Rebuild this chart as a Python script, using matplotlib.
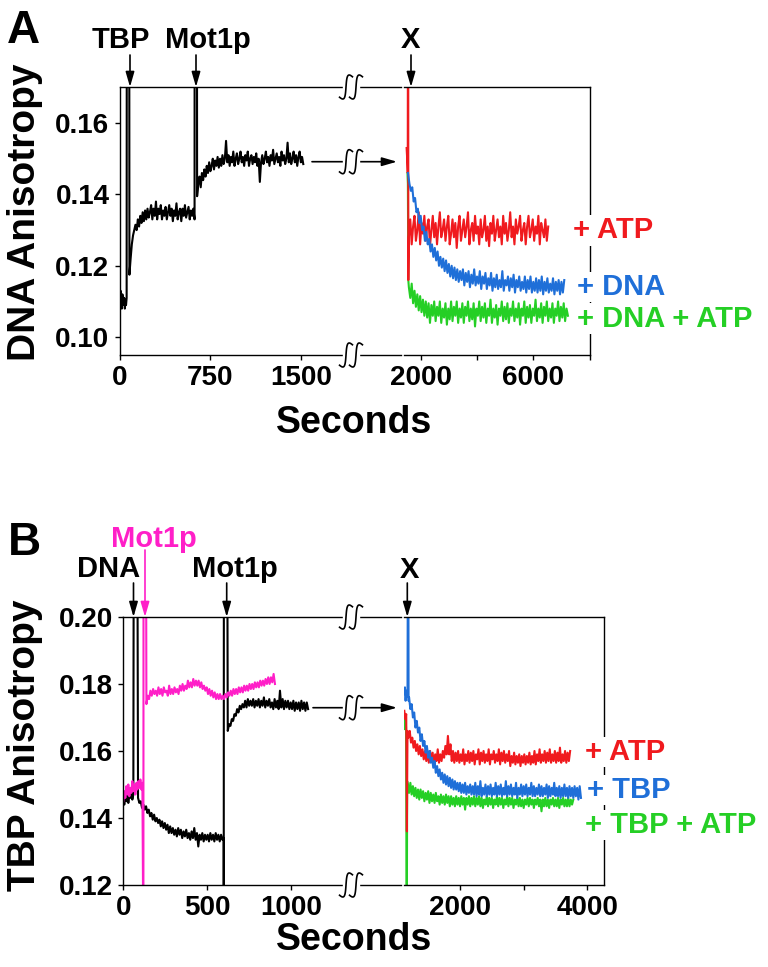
import numpy as np
import matplotlib
matplotlib.use('Agg')
import matplotlib.pyplot as plt
from matplotlib.lines import Line2D
from matplotlib.patches import FancyArrowPatch, Rectangle

plt.rcParams['font.family'] = ['Liberation Sans', 'DejaVu Sans']
plt.rcParams['font.weight'] = 'bold'

W, H = 768, 967

RED = '#f01a1e'
BLUE = '#1f6fd8'
GREEN = '#25cf25'
PINK = '#ff1fc8'
LW = 1.5

OFF = 250   # injection spikes run off the top of the plot
LOW = 100   # ... or off the bottom

# all anisotropy values, in units of 0.001

# ---- panel A: DNA anisotropy ----
a_black_start = [110, 113, 111, 108, 112, 110, 109, 111, 108, 110, 109, 111]  # 0 s, every 5 s
a_black_tbp = [117.5, 122, 126, 128.5, 130, 131.5, 130, 133, 131, 134, 132, 135, 132.5, 135.5,
               133, 136, 133.5, 135, 137, 133, 136, 134, 138, 133, 136, 134.5, 137, 133, 135.5,
               134, 136.5, 133, 135, 137, 134, 136, 132.5, 135.5, 134, 137.5, 133, 135, 136,
               132.5, 136, 134, 137, 133.5, 135, 136.5, 133, 135.5, 134, 136, 133]  # 78 s, every 10 s
a_black_mot = [139.5, 143, 145, 142, 146, 144, 147, 145, 148, 146, 149, 146.5, 148, 150, 147,
               149.5, 148, 150.5, 147.5, 150, 148, 151, 148.5, 150, 155, 149, 151, 148, 150.5,
               149, 152, 148, 150, 151.5, 148.5, 150, 152, 149, 150.5, 148, 151, 149.5, 152, 148,
               150, 151, 148.5, 150.5, 149, 151.5, 148, 150, 143.5, 149, 151, 148.5, 150, 152,
               149, 150.5, 148, 151, 149.5, 152.5, 148.5, 150, 151.5, 149, 150.5, 148, 152,
               149.5, 151, 148.5, 150, 154.5, 149, 151.5, 148.5, 150, 152, 149, 151, 148, 150.5,
               152, 149, 150.5, 148.5]  # 639 s, every 10 s

a_red_pre = [153, 150, 146]  # 1500 s, every 20 s
a_red = [128, 133, 126, 131, 134, 127, 130, 135, 126, 132, 129, 134, 127, 131, 133, 125.5, 130,
         134, 128, 132, 126, 131, 135, 128, 130, 133, 127, 131, 134, 126, 129, 133, 128, 132, 125,
         131, 134, 127, 130, 133, 128, 131, 135, 126, 130, 132, 127, 134, 129, 131, 126, 133, 128,
         130, 134, 127, 131, 125.5, 132, 129, 134, 127, 130, 133, 128, 131, 126, 134, 129, 132,
         127, 130, 135, 128, 131, 126, 133, 129, 131, 134, 127, 130, 132, 126, 131, 134, 128, 130,
         133, 127, 131, 129, 134, 126, 132, 130, 128, 133, 127, 131]  # 1580 s, every 50 s
a_blue = [146, 143, 141, 142, 138, 139, 135, 136, 132, 134, 130, 131, 127, 129.5, 126, 127.5, 124,
          126, 122.5, 125, 121.5, 124, 120, 122.5, 119.5, 122, 118.5, 121.5, 118, 120.5, 117, 120,
          116.5, 119.5, 116, 119, 115.5, 118.5, 116, 119, 114.5, 118, 115.5, 118.5, 114, 117.5,
          115, 119, 114.5, 117, 115, 118.5, 113.5, 117, 115, 118, 113.5, 116.5, 114.5, 118, 113,
          116.5, 114, 117.5, 113.5, 116, 114, 118.5, 113, 116, 114.5, 117, 113, 116.5, 114, 117.5,
          112.5, 116, 114, 117, 113, 115.5, 113.5, 117, 112.5, 116, 113.5, 117, 112.5, 115.5, 113,
          116.5, 112.5, 116, 113, 117, 112, 115.5, 113, 116.5, 112.5, 115, 113, 116.5, 112, 115.5,
          113, 116, 112, 115.5, 112.5, 116]  # 1550 s, every 50 s
a_green_pre = [146, 143]  # 1530 s, every 15 s
a_green = [114, 111, 115, 109.5, 113, 108.5, 112, 107.5, 111.5, 107, 110.5, 106, 110, 105.5,
           109.5, 104, 109, 106, 110, 104.5, 108.5, 106, 110, 104, 108, 105.5, 109.5, 103.5, 108,
           105, 110, 104.5, 108.5, 106, 110, 104, 108, 105.5, 109.5, 104, 108.5, 106, 110, 104.5,
           108, 105, 109.5, 103, 108, 106, 110, 104.5, 108.5, 105.5, 109.5, 104, 108, 106, 110.5,
           104, 108, 105.5, 109, 103.5, 108, 106, 110, 104.5, 108.5, 105, 109.5, 104, 108, 106,
           110, 104.5, 108, 105.5, 109.5, 103.5, 108, 106, 110, 104, 108.5, 105.5, 109, 104, 108,
           106, 110.5, 104.5, 108, 105.5, 109.5, 104, 108.5, 106, 110, 104.5, 108, 105.5, 109.5,
           104, 108, 106, 110, 104.5, 108.5, 105.5, 109.5, 104.5, 108, 106]  # 1580 s, every 50 s

# ---- panel B: TBP anisotropy ----
b_black_start = [146, 144, 147, 145, 148, 144.5, 147, 146, 148, 145.5, 147]  # 0 s, every 6 s
b_black_dna = [146, 144.5, 145, 143, 144, 142.5, 143.5, 141.5, 142.5, 140.5, 141.5, 139.5, 141,
               139, 140, 138.5, 139.5, 137.5, 139, 137, 138.5, 136.5, 138, 135.5, 137.5, 135.5,
               137, 135, 136.5, 134.5, 137, 135, 136.5, 134, 136, 134.5, 136.5, 134, 135.5, 133.5,
               136, 134, 137, 133.5, 135.5, 131.5, 135, 133.5, 135.5, 133, 135, 133.5, 135, 133,
               135.5, 133.5, 135, 133, 135.5, 133.5, 135, 133, 135, 133.5, 134]  # 88 s, every 8 s
b_black_mot = [166, 168, 167.5, 169.5, 169, 171, 170.5, 172.5, 171.5, 173.5, 172.5, 174, 173,
               175, 173, 175.5, 173.5, 175, 173.5, 175.5, 173, 175, 173.5, 175.5, 173, 175, 173.5,
               176, 173, 175, 173.5, 175.5, 173, 174.5, 172.5, 175.5, 173, 175, 172.5, 178, 173,
               175.5, 172.5, 175, 173, 175, 172.5, 174.5, 172.5, 175, 172, 174.5, 172.5, 174.5,
               172, 175, 172.5, 174.5, 172, 174.5, 172.5]  # 624 s, every 8 s
b_pink_start = [145, 148, 146, 149.5, 147, 150, 146.5, 149, 147.5, 151, 148, 150, 147, 150.5,
                148.5, 151, 149, 151.5, 148.5, 150.5]  # 0 s, every 6 s
b_pink_mot = [174, 176.5, 175.5, 178, 176.5, 178.5, 177, 178, 176.5, 179, 177, 178.5, 176.5, 179,
              177.5, 178, 176.5, 179.5, 177, 178.5, 177, 179, 177.5, 178.5, 177, 179.5, 178, 180,
              178, 179.5, 178.5, 181, 179, 180.5, 179, 181.5, 179.5, 181, 179.5, 181, 179, 180.5,
              178.5, 179.5, 178, 179, 177, 178.5, 176.5, 178, 176, 177.5, 175.5, 177, 175.5, 177,
              175.5, 176.5, 175.5, 177, 176, 177.5, 176.5, 178, 176.5, 178.5, 177, 178.5, 177, 179,
              177.5, 179, 177.5, 179.5, 178, 179.5, 178, 180, 178.5, 180, 178.5, 180.5, 179, 180.5,
              179, 181, 179.5, 181, 179.5, 181.5, 180, 182, 180, 182, 180.5, 183, 180]  # 138 s, every 8 s

b_red_pre = [172, 169.5, 171]  # 1125 s, every 15 s
b_red = [164, 166, 162.5, 164, 161, 163, 160, 162, 159, 161.5, 158.5, 160.5, 157.5, 160, 157,
         159.5, 156.5, 160, 157, 159.5, 156, 159, 157, 160.5, 156.5, 159, 157, 160, 158, 161.5,
         159, 164.5, 159, 162, 157, 160, 156.5, 159.5, 157, 160, 156.5, 159, 157, 160.5, 156, 159,
         157, 160, 156.5, 159.5, 157, 160, 156, 159, 157.5, 160.5, 156, 159.5, 157, 160, 156.5,
         159, 157, 160.5, 156, 159, 157.5, 160, 156.5, 159, 157, 160.5, 156, 159.5, 157, 160,
         156.5, 159, 157, 160, 155.5, 158.5, 156.5, 159.5, 156, 158.5, 156.5, 159, 155.5, 158.5,
         156.5, 159, 156, 158.5, 156.5, 159.5, 156, 158.5, 156.5, 160, 156, 159, 157, 160.5,
         156.5, 159, 157, 160, 156.5, 159.5, 157, 160.5, 156.5, 159, 157, 160, 156.5, 159.5, 157,
         161, 156.5, 159, 157, 160, 156.5, 159.5, 157, 160]  # 1190 s, every 20 s
b_blue_pre = [177, 179, 175, 178, 176, 177]  # 1125 s, every 10 s
b_blue = [176, 172.5, 174, 170, 171.5, 167, 169, 165.5, 167, 163, 165, 161.5, 163, 159.5, 161.5,
          158, 160, 156.5, 158, 155, 157, 153.5, 155.5, 152.5, 154.5, 151.5, 153.5, 150.5, 153,
          150, 152.5, 149.5, 152, 149, 151.5, 148.5, 151, 148.5, 150.5, 148, 150.5, 147.5, 150,
          147.5, 150.5, 147, 149.5, 147.5, 150, 147, 149.5, 147, 150.5, 146.5, 149.5, 147, 151,
          146.5, 149, 147, 150, 146.5, 149.5, 147, 150, 146.5, 149, 147, 150.5, 146.5, 149.5, 147,
          150, 146.5, 149, 147, 151, 146.5, 149.5, 147, 150, 146.5, 149, 147, 150.5, 146, 149, 147,
          150, 146.5, 149.5, 147, 150, 146.5, 149, 147, 150.5, 146.5, 149.5, 146.5, 149, 147, 150,
          146.5, 149.5, 146.5, 149, 147, 150, 146, 149.5, 146.5, 149, 147, 150.5, 146.5, 149,
          146.5, 149.5, 146, 149, 146.5, 150, 146.5, 149, 146, 149.5, 146.5, 149, 146, 149.5,
          146.5, 149, 145.5, 149.5, 146]  # 1200 s, every 20 s
b_green_pre = [168, 171, 166.5, 170, 167]  # 1120 s, every 8 s
b_green = [150, 147.5, 150.5, 147, 149.5, 146.5, 149, 146, 148.5, 145.5, 148.5, 146, 148, 145,
           147.5, 145.5, 148, 144.5, 147.5, 145, 147, 144.5, 147.5, 145, 146.5, 144, 147, 144.5,
           146.5, 144, 147, 144.5, 146.5, 143.5, 146.5, 144, 146, 143.5, 146.5, 144, 146, 143.5,
           146.5, 144, 146, 142.5, 146, 144, 146.5, 143.5, 146, 144, 146.5, 143.5, 146, 144,
           146.5, 143.5, 146, 143, 145.5, 144, 146.5, 143.5, 146, 144, 146, 143, 145.5, 144,
           146.5, 143.5, 146, 144, 146, 143, 145.5, 144, 146.5, 143.5, 146, 144, 146, 143, 145.5,
           144, 146, 143.5, 146, 143.5, 145.5, 143, 145.5, 144, 146, 143.5, 146, 144, 145.5, 143,
           145.5, 144, 146, 143.5, 145.5, 142, 145.5, 143.5, 146, 143.5, 145.5, 143, 145.5, 144,
           146, 143.5, 145.5, 143.5, 146, 143, 145.5, 144, 146, 143.5, 145.5, 143.5, 146, 143.5,
           145.5, 144, 145.5]  # 1180 s, every 20 s


def piece(t0, dt, vals):
    return np.arange(len(vals)) * dt + t0, np.asarray(vals, float) / 1000


def join(*pieces):
    return (np.concatenate([p[0] for p in pieces]),
            np.concatenate([p[1] for p in pieces]))


def fx(x):
    return x / W


def fy(y):
    return 1 - y / H


def squiggle(x, y):
    # axis break mark drawn as two integral-like strokes
    fig.add_artist(Rectangle((fx(x - 8), fy(y + 3)), 16 / W, 6 / H,
                             transform=fig.transFigure, color='white', zorder=5))
    t = np.linspace(-1.35, 1.35, 60)
    for dx in (-5, 5):
        xs = x + dx + 1.3 * t + 1.9 * t ** 3
        ys = y - 12 * np.sin(np.pi * t / 2)
        fig.add_artist(Line2D(fx(xs), fy(ys), transform=fig.transFigure,
                              color='k', lw=1.2, zorder=6))


def arrow(x0, y0, x1, y1, color='k'):
    fig.add_artist(FancyArrowPatch((fx(x0), fy(y0)), (fx(x1), fy(y1)),
                                   transform=fig.transFigure,
                                   arrowstyle='-|>,head_length=9,head_width=2.6',
                                   mutation_scale=1, lw=1.2, color=color,
                                   shrinkA=0, shrinkB=0, zorder=4))


def label(x, y, s, color='k', size=21, ha='center', box=False):
    kw = {}
    if box:
        kw['bbox'] = dict(facecolor='white', edgecolor='none', pad=1)
    fig.text(fx(x), fy(y), s, color=color, fontsize=size, fontweight='bold',
             ha=ha, va='baseline', zorder=7, **kw)


def make_axes(x0, x1, y0, y1, side):
    ax = fig.add_axes([fx(x0), fy(y1), (x1 - x0) / W, (y1 - y0) / H])
    for sp in ax.spines.values():
        sp.set_linewidth(1.0)
    if side == 'left':
        ax.spines['right'].set_visible(False)
    else:
        ax.spines['left'].set_visible(False)
        ax.tick_params(left=False, labelleft=False)
    ax.tick_params(direction='out', length=3.6, width=1.0, labelsize=20)
    ax.tick_params(axis='x', pad=3.5)
    ax.tick_params(axis='y', pad=4)
    return ax


fig = plt.figure(figsize=(W / 100, H / 100), dpi=100)

# ---------------- panel A ----------------
axAl = make_axes(120, 401, 87, 355, 'left')
axAr = make_axes(404, 590, 87, 355, 'right')

t, v = join(piece(0, 5, a_black_start), piece(57, 19, [OFF, OFF]),
            piece(78, 10, a_black_tbp), piece(619, 18, [OFF, OFF]),
            piece(639, 10, a_black_mot))
axAl.plot(t, v, color='k', lw=LW)

t, v = join(piece(1530, 15, a_green_pre), piece(1560, 1, [116]), piece(1580, 50, a_green))
axAr.plot(t, v, color=GREEN, lw=LW)
t, v = join(piece(1500, 20, a_red_pre), piece(1555, 5, [OFF, 116]), piece(1580, 50, a_red))
axAr.plot(t, v, color=RED, lw=LW)
t, v = piece(1550, 50, a_blue)
axAr.plot(t, v, color=BLUE, lw=LW)

for ax in (axAl, axAr):
    ax.set_ylim(0.095, 0.1701)
axAl.set_xlim(0, 2329)
axAr.set_xlim(1407, 8014)
axAl.set_yticks([0.10, 0.12, 0.14, 0.16], ['0.10', '0.12', '0.14', '0.16'])
axAl.set_xticks([0, 750, 1500], ['0', '750', '1500'])
axAr.set_xticks([2000, 4000, 6000, 8000], ['2000', '', '6000', ''])

# ---------------- panel B ----------------
axBl = make_axes(123.3, 401, 617, 885, 'left')
axBr = make_axes(404, 604, 617, 885, 'right')

t, v = join(piece(0, 6, b_black_start), piece(63, 20, [OFF, OFF]),
            piece(88, 8, b_black_dna), piece(600, 1, [LOW, OFF]),
            piece(620, 1, [OFF]), piece(624, 8, b_black_mot))
axBl.plot(t, v, color='k', lw=LW)
t, v = join(piece(0, 6, b_pink_start), piece(120, 1, [LOW, OFF]),
            piece(135, 1, [OFF]), piece(138, 8, b_pink_mot))
axBl.plot(t, v, color=PINK, lw=LW)

t, v = join(piece(1120, 8, b_green_pre), piece(1163, 7, [LOW, 151]), piece(1180, 20, b_green))
axBr.plot(t, v, color=GREEN, lw=LW)
t, v = join(piece(1125, 15, b_red_pre), piece(1165, 10, [136, 166]), piece(1190, 20, b_red))
axBr.plot(t, v, color=RED, lw=LW)
t, v = join(piece(1125, 10, b_blue_pre), piece(1185, 7, [OFF, 175]), piece(1200, 20, b_blue))
axBr.plot(t, v, color=BLUE, lw=LW)

for ax in (axBl, axBr):
    ax.set_ylim(0.12, 0.20)
axBl.set_xlim(0, 1659)
axBr.set_xlim(1120, 4262)
axBl.set_yticks([0.12, 0.14, 0.16, 0.18, 0.20], ['0.12', '0.14', '0.16', '0.18', '0.20'])
axBl.set_xticks([0, 500, 1000], ['0', '500', '1000'])
axBr.set_xticks([2000, 3000, 4000], ['2000', '', '4000'])

# ---------------- annotations ----------------
arrow(130, 55, 130, 87)
arrow(196, 55, 196, 87)
arrow(411, 55, 411, 87)
arrow(312, 161.7, 397, 161.7)
arrow(133.5, 583, 133.5, 617)
arrow(145, 550, 145, 617, PINK)
arrow(226.7, 583, 226.7, 617)
arrow(407.3, 583, 407.3, 617)
arrow(313, 707.7, 397, 707.7)

for y in (87, 161.7, 355, 617, 707.7, 885):
    squiggle(351, y)

label(7, 43, 'A', size=33, ha='left')
label(121, 48, 'TBP')
label(207.5, 48, 'Mot1p')
label(410, 48, 'X')
label(573, 238.3, '+ ATP', RED, ha='left', box=True)
label(576.7, 295, '+ DNA', BLUE, ha='left', box=True)
label(576.7, 326.7, '+ DNA + ATP', GREEN, ha='left', box=True)
label(354, 433, 'Seconds', size=27)
fig.text(fx(25), fy(212), 'DNA Anisotropy', rotation=90, ha='center', va='center',
         fontsize=28, fontweight='bold')

label(8, 555, 'B', size=33, ha='left')
label(154, 547, 'Mot1p', PINK)
label(109, 577, 'DNA')
label(235, 577, 'Mot1p')
label(409, 578, 'X')
label(585, 760, '+ ATP', RED, ha='left', box=True)
label(586.7, 798, '+ TBP', BLUE, ha='left', box=True)
label(585, 833, '+ TBP + ATP', GREEN, ha='left', box=True)
label(354, 950, 'Seconds', size=27)
fig.text(fx(25), fy(745), 'TBP Anisotropy', rotation=90, ha='center', va='center',
         fontsize=28, fontweight='bold')

fig.savefig('out.png', dpi=100)
